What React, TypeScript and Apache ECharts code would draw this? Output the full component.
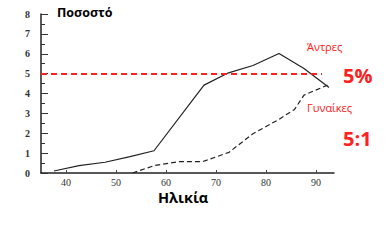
import React, { useEffect, useRef } from "react";
import * as echarts from "echarts";

const menAges = [37.6, 42.6, 47.8, 52.8, 57.6, 67.6, 72.5, 77.4, 82.6, 87.6, 92.6];
const menRates = [0.1, 0.37, 0.54, 0.82, 1.12, 4.42, 5.04, 5.41, 6.01, 5.26, 4.3];
const womenAges = [53.3, 57.6, 62.6, 67.3, 72.6, 77.3, 82.6, 85.7, 87.6, 92.3];
const womenRates = [0.0, 0.37, 0.57, 0.57, 1.04, 1.96, 2.7, 3.2, 3.92, 4.42];
const xTicks = [40, 50, 60, 70, 80, 90];
const threshold = 5;
const thresholdEnd = 91.2;

export default function App() {
  const ref = useRef<HTMLDivElement>(null);
  useEffect(() => {
    const chart = echarts.init(ref.current!, null, { renderer: "svg" });
    const serif = "'Liberation Serif', 'DejaVu Serif', serif";
    const sans = "'Open Sans', 'DejaVu Sans', sans-serif";
    chart.setOption({
      animation: false,
      backgroundColor: "#ffffff",
      grid: { left: 41, top: 14, right: 54, bottom: 77 },
      xAxis: {
        type: "value",
        min: 35,
        max: 93.6,
        splitLine: { show: false },
        axisLine: { onZero: false, lineStyle: { color: "#222", width: 1.5 } },
        axisTick: { inside: true, length: 3, customValues: xTicks, lineStyle: { color: "#444" } },
        axisLabel: { customValues: xTicks, color: "#333", fontFamily: serif, fontSize: 10, margin: 4 },
      },
      yAxis: {
        type: "value",
        min: 0,
        max: 8,
        interval: 1,
        splitLine: { show: false },
        axisLine: { show: true, lineStyle: { color: "#222", width: 1.5 } },
        axisTick: { show: true, inside: true, length: 7, lineStyle: { color: "#333" } },
        minorTick: { show: true, splitNumber: 2, length: 4, lineStyle: { color: "#333" } },
        axisLabel: { color: "#333", fontFamily: serif, fontSize: 10, fontWeight: "bold", margin: 11 },
      },
      series: [
        {
          type: "line",
          data: menAges.map((a, i) => [a, menRates[i]]),
          symbol: "none",
          lineStyle: { color: "#222", width: 1.2 },
          markLine: {
            silent: true,
            symbol: "none",
            label: { show: false },
            lineStyle: { color: "#ff2020", type: [6, 4], width: 2 },
            data: [[{ coord: [35, threshold] }, { coord: [thresholdEnd, threshold] }]],
          },
        },
        {
          type: "line",
          data: womenAges.map((a, i) => [a, womenRates[i]]),
          symbol: "none",
          lineStyle: { color: "#222", width: 1.2, type: [5, 3] },
        },
      ],
      graphic: [
        { type: "text", left: 57, top: 6, style: { text: "Ποσοστό", font: `bold 12.5px ${sans}`, fill: "#000" } },
        { type: "text", left: 158, top: 190, style: { text: "Ηλικία", font: `bold 14.5px ${sans}`, fill: "#000" } },
        { type: "text", left: 307, top: 41, style: { text: "Άντρες", font: `11px ${sans}`, fill: "#ff2020" } },
        { type: "text", left: 343, top: 65, style: { text: "5%", font: `bold 20px ${sans}`, fill: "#ff2020" } },
        { type: "text", left: 307, top: 102, style: { text: "Γυναίκες", font: `11px ${sans}`, fill: "#ff2020" } },
        { type: "text", left: 343, top: 128, style: { text: "5:1", font: `bold 20px ${sans}`, fill: "#ff2020" } },
      ],
    });
    return () => chart.dispose();
  }, []);
  return <div ref={ref} style={{ width: 388, height: 250, position: "absolute", left: 0, top: 0 }} />;
}
